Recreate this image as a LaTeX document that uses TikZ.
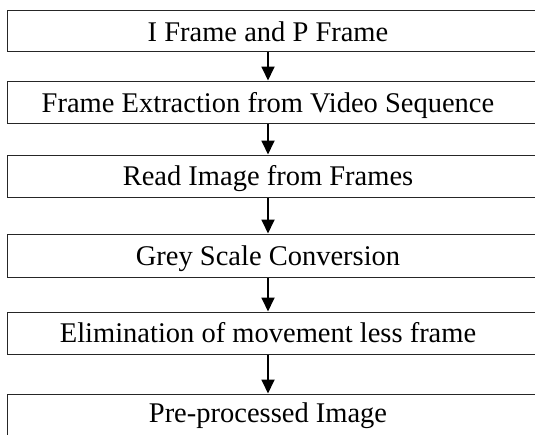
\documentclass[tikz,border=0pt]{standalone}
\usepackage{fontspec}
\setmainfont{Liberation Serif}
\usetikzlibrary{arrows.meta}

\tikzset{
  stagebox/.style={draw=black!85, line width=1.3pt, rectangle, anchor=north west,
    minimum width=560pt, inner sep=0pt},
  stagetext/.style={anchor=base, inner sep=0pt, font=\fontsize{28.5}{34}\selectfont},
  flow/.style={line width=1.8pt, -{Triangle[length=14pt, width=13pt]}, shorten >=0.5pt}
}

\begin{document}
\begin{tikzpicture}[x=1pt, y=-1pt]
  \useasboundingbox (0,0) rectangle (535,434);
  \clip (0,0) rectangle (535,434);

  % axis on which all labels and arrows are centred
  \coordinate (ax) at (268,0);

  % stage boxes (right edges run past the frame)
  \node[stagebox, minimum height=41pt] (b1) at (7,10)  {};
  \node[stagebox, minimum height=42pt] (b2) at (7,81)  {};
  \node[stagebox, minimum height=42pt] (b3) at (7,155) {};
  \node[stagebox, minimum height=43pt] (b4) at (7,234) {};
  \node[stagebox, minimum height=42pt] (b5) at (7,312) {};
  \node[stagebox, minimum height=44pt] (b6) at (7,394) {};

  % stage labels
  \node[stagetext] (t1) at (268,41)  {I Frame and P Frame};
  \node[stagetext] (t2) at (268,112) {Frame Extraction from Video Sequence};
  \node[stagetext] (t3) at (268,185) {Read Image from Frames};
  \node[stagetext] (t4) at (268,265) {Grey Scale Conversion};
  \node[stagetext] (t5) at (268,342) {Elimination of movement less frame};
  \node[stagetext] (t6) at (268,422) {Pre-processed Image};

  % flow arrows between consecutive stages
  \draw[flow] (b1.south -| ax) -- (b2.north -| ax);
  \draw[flow] (b2.south -| ax) -- (b3.north -| ax);
  \draw[flow] (b3.south -| ax) -- (b4.north -| ax);
  \draw[flow] (b4.south -| ax) -- (b5.north -| ax);
  \draw[flow] (b5.south -| ax) -- (b6.north -| ax);
\end{tikzpicture}
\end{document}
